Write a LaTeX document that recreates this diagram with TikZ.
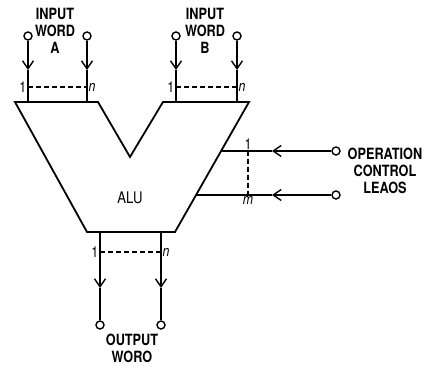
\documentclass[tikz,border=0pt]{standalone}
\usepackage{fontspec}
\usetikzlibrary{positioning,calc,arrows.meta}
\newfontfamily\alufont[FakeStretch=0.82]{TeX Gyre Heros}
\tikzset{
  wire/.style={draw=black,line width=1.8pt},
  flow/.style={wire,-{Straight Barb[length=8pt,width=11pt,line width=1.4pt]}},
  term/.style={circle,draw=black,fill=white,line width=1.4pt,inner sep=0pt,minimum size=8pt},
  bus/.style={draw=black,line width=1.2pt,dash pattern=on 5pt off 3pt},
  body/.style={draw=black,line width=1.8pt,line join=miter},
  lbl/.style={font=\alufont\bfseries\fontsize{15.5}{17}\selectfont,align=center,inner sep=0pt},
  idx/.style={font=\alufont\fontsize{15}{15}\selectfont,inner sep=1.5pt},
}

\begin{document}
\begin{tikzpicture}[x=1pt,y=-1pt]
\useasboundingbox (0,0) rectangle (424,366);
% the ALU body
\draw[body] (15,102) -- (98,102) -- (130,157) -- (163,102) -- (249,102)
  -- (175,232) -- (87,232) -- cycle;
\node[lbl,font=\alufont\fontsize{16}{17}\selectfont] (alu) at (130,198) {ALU};
% input words
\foreach \nm/\x in {a1/28,a2/87,b1/176,b2/237}{
  \node[term] (\nm) at (\x,36) {};
  \coordinate (\nm tip) at (\x,70);
  \coordinate (\nm bus) at (\x,87);
  \coordinate (\nm end) at (\x,102);
  \draw[flow] (\nm) -- (\nm tip);
  \draw[wire] (\nm tip) -- (\nm end);
}
\foreach \p/\q in {a1/a2,b1/b2}{
  \draw[bus] (\p bus) -- (\q bus);
  \node[idx,left] at (\p bus) {1};
  \node[idx,right] at (\q bus) {\itshape n};
}
\node[lbl] (wa) at (55,31) {INPUT\\WORD\\A};
\node[lbl] (wb) at (205,31) {INPUT\\WORD\\B};
% output word
\foreach \nm/\x in {o1/100,o2/161}{
  \coordinate (\nm top) at (\x,232);
  \coordinate (\nm bus) at (\x,252);
  \coordinate (\nm tip) at (\x,288);
  \node[term] (\nm) at (\x,325) {};
  \draw[flow] (\nm top) -- (\nm tip);
  \draw[wire] (\nm tip) -- (\nm);
}
\draw[bus] (o1bus) -- (o2bus);
\node[idx,left] at (o1bus) {1};
\node[idx,right] at (o2bus) {\itshape n};
\node[lbl] (wo) at (132,348) {OUTPUT\\WORO};
% operation control leads
\foreach \nm/\y/\x in {c1/151/221,c2/195/196}{
  \node[term] (\nm) at (336,\y) {};
  \coordinate (\nm tip) at (272,\y);
  \coordinate (\nm bus) at (248,\y);
  \coordinate (\nm end) at (\x,\y);
  \draw[flow] (\nm) -- (\nm tip);
  \draw[wire] (\nm tip) -- (\nm end);
}
\draw[bus] (c1bus) -- (c2bus);
\node[idx,above] at (c1bus) {1};
\node[idx,below] at (c2bus) {\itshape m};
\node[lbl] (ctl) at (385,171) {OPERATION\\CONTROL\\LEAOS};
\end{tikzpicture}
\end{document}
